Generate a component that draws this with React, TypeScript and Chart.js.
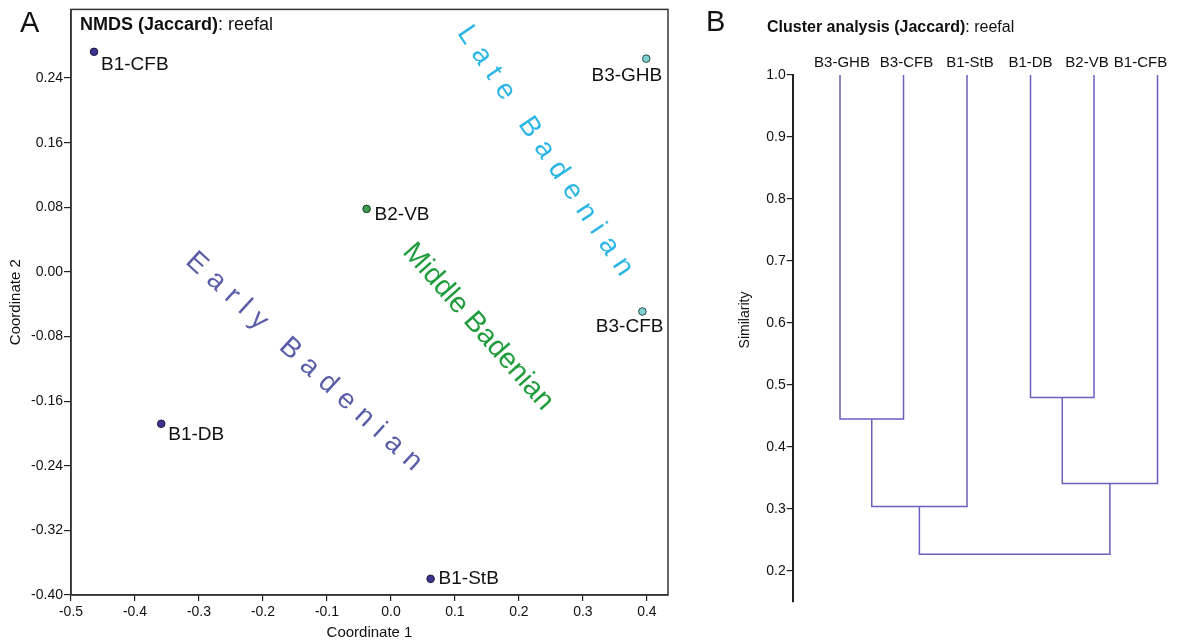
import React, { useEffect, useRef } from "react";
import { Chart, registerables } from "chart.js";

Chart.register(...registerables);

const FONT = "'Liberation Sans', Arial, Helvetica, sans-serif";

// ---------- Panel A: NMDS (Jaccard), reefal ----------
const b1Names = ["B1-CFB", "B1-DB", "B1-StB"];
const b1Coord1 = [-0.464, -0.359, 0.062];
const b1Coord2 = [0.2725, -0.188, -0.38];

const b2Names = ["B2-VB"];
const b2Coord1 = [-0.038];
const b2Coord2 = [0.078];

const b3Names = ["B3-GHB", "B3-CFB"];
const b3Coord1 = [0.399, 0.393];
const b3Coord2 = [0.264, -0.049];

const coord1Ticks = [-0.5, -0.4, -0.3, -0.2, -0.1, 0, 0.1, 0.2, 0.3, 0.4];
const coord2Ticks = [-0.4, -0.32, -0.24, -0.16, -0.08, 0, 0.08, 0.16, 0.24];

const stageNames = ["Early Badenian", "Middle Badenian", "Late Badenian"];
const stageCoord1 = [-0.136, 0.136, 0.241];
const stageCoord2 = [-0.111, -0.068, 0.15];

// ---------- Panel B: Cluster analysis (Jaccard), reefal ----------
const leafNames = ["B3-GHB", "B3-CFB", "B1-StB", "B1-DB", "B2-VB", "B1-CFB"];
// node ids: 0..5 leaves, 6.. merges in order
const mergeLeft = [0, 3, 6, 7, 8];
const mergeRight = [1, 4, 2, 5, 9];
const mergeSimilarity = [0.445, 0.48, 0.304, 0.341, 0.227];
const similarityTicks = [0.2, 0.3, 0.4, 0.5, 0.6, 0.7, 0.8, 0.9, 1.0];

// ---------- styles ----------
const pointLabelStyle: Record<string, { dx: number; dy: number; align: CanvasTextAlign }> = {
  "B1-CFB": { dx: 7, dy: 13, align: "left" },
  "B3-GHB": { dx: 16, dy: 17, align: "right" },
  "B2-VB": { dx: 8, dy: 6, align: "left" },
  "B3-CFB": { dx: 21, dy: 15, align: "right" },
  "B1-DB": { dx: 7, dy: 11, align: "left" },
  "B1-StB": { dx: 8, dy: 0, align: "left" },
};
const stageStyle = [
  { color: "#5a5ea8", angle: 42.5, size: 28, spacing: 9.2 },
  { color: "#1f9d3d", angle: 48.5, size: 28.5, spacing: 0 },
  { color: "#2cb6e6", angle: 56.2, size: 28, spacing: 9.5 },
];
const leafLabelShift = [2, 3, 3, 0, -7, -17];
const DENDRO_COLOR = "#6a60c0";

function drawSpaced(ctx: CanvasRenderingContext2D, text: string, cx: number, cy: number, angleDeg: number, spacing: number) {
  const chars = [...text];
  const widths = chars.map((c) => ctx.measureText(c).width);
  const total = widths.reduce((a, b) => a + b, 0) + spacing * (chars.length - 1);
  ctx.save();
  ctx.translate(cx, cy);
  ctx.rotate((angleDeg * Math.PI) / 180);
  ctx.textAlign = "left";
  ctx.textBaseline = "middle";
  if (spacing === 0) {
    ctx.textAlign = "center";
    ctx.fillText(text, 0, 0);
  } else {
    let x = -total / 2;
    chars.forEach((c, i) => {
      ctx.fillText(c, x, 0);
      x += widths[i] + spacing;
    });
  }
  ctx.restore();
}

function drawRich(ctx: CanvasRenderingContext2D, parts: [string, string][], x: number, y: number, size: number) {
  ctx.textAlign = "left";
  ctx.textBaseline = "middle";
  ctx.fillStyle = "#111";
  let cx = x;
  parts.forEach(([t, w]) => {
    ctx.font = `${w} ${size}px ${FONT}`;
    ctx.fillText(t, cx, y);
    cx += ctx.measureText(t).width;
  });
}

const panelAPlugin = {
  id: "panelA",
  afterDraw(chart: any) {
    const { ctx, chartArea: ca, scales } = chart;
    ctx.save();
    ctx.strokeStyle = "#333";
    ctx.lineWidth = 1.5;
    ctx.strokeRect(ca.left, ca.top, ca.right - ca.left, ca.bottom - ca.top);

    stageNames.forEach((name, i) => {
      const st = stageStyle[i];
      ctx.font = `${st.size}px ${FONT}`;
      ctx.fillStyle = st.color;
      drawSpaced(ctx, name, scales.x.getPixelForValue(stageCoord1[i]), scales.y.getPixelForValue(stageCoord2[i]), st.angle, st.spacing);
    });

    chart.data.datasets.forEach((ds: any, di: number) => {
      const meta = chart.getDatasetMeta(di);
      ds.names.forEach((n: string, i: number) => {
        const pt = meta.data[i];
        const st = pointLabelStyle[n];
        ctx.font = `19px ${FONT}`;
        ctx.fillStyle = "#111";
        ctx.textAlign = st.align;
        ctx.textBaseline = "middle";
        ctx.fillText(n, pt.x + st.dx, pt.y + st.dy);
      });
    });

    drawRich(ctx, [["NMDS (Jaccard)", "bold"], [": reefal", "normal"]], ca.left + 9, 25, 18);

    ctx.font = `29px ${FONT}`;
    ctx.fillStyle = "#111";
    ctx.textAlign = "left";
    ctx.textBaseline = "alphabetic";
    ctx.fillText("A", 20, 32);
    ctx.restore();
  },
};

const panelBPlugin = {
  id: "panelB",
  afterDraw(chart: any) {
    const { ctx, chartArea: ca, scales } = chart;
    ctx.save();
    ctx.font = `15px ${FONT}`;
    ctx.fillStyle = "#111";
    ctx.textAlign = "center";
    ctx.textBaseline = "middle";
    leafNames.forEach((n, i) => {
      ctx.fillText(n, scales.x.getPixelForValue(i + 1) + leafLabelShift[i], ca.top - 12);
    });

    ctx.save();
    ctx.translate(65, 320);
    ctx.rotate(-Math.PI / 2);
    ctx.font = `14px ${FONT}`;
    ctx.fillText("Similarity", 0, 0);
    ctx.restore();

    drawRich(ctx, [["Cluster analysis (Jaccard)", "bold"], [": reefal", "normal"]], 87, 28, 16);

    ctx.font = `29px ${FONT}`;
    ctx.fillStyle = "#111";
    ctx.textAlign = "left";
    ctx.textBaseline = "alphabetic";
    ctx.fillText("B", 26, 31);
    ctx.restore();
  },
};

function buildDendrogram() {
  const nodeX: number[] = leafNames.map((_, i) => i + 1);
  const nodeH: number[] = leafNames.map(() => 1.0);
  const segments: { x: number; y: number }[][] = [];
  mergeLeft.forEach((l, k) => {
    const r = mergeRight[k];
    const h = mergeSimilarity[k];
    segments.push([
      { x: nodeX[l], y: nodeH[l] },
      { x: nodeX[l], y: h },
      { x: nodeX[r], y: h },
      { x: nodeX[r], y: nodeH[r] },
    ]);
    nodeX.push((nodeX[l] + nodeX[r]) / 2);
    nodeH.push(h);
  });
  return segments;
}

const pts = (xs: number[], ys: number[]) => xs.map((x, i) => ({ x, y: ys[i] }));

export default function App() {
  const refA = useRef<HTMLCanvasElement>(null);
  const refB = useRef<HTMLCanvasElement>(null);

  useEffect(() => {
    const tickFont = { family: FONT, size: 14 };
    const chartA = new Chart(refA.current!, {
      type: "scatter",
      data: {
        datasets: [
          { label: "B1", names: b1Names, data: pts(b1Coord1, b1Coord2), backgroundColor: "#3c3391", borderColor: "#1c1a3a", borderWidth: 1, pointRadius: 3.8 } as any,
          { label: "B2", names: b2Names, data: pts(b2Coord1, b2Coord2), backgroundColor: "#3d9a4e", borderColor: "#1c3a22", borderWidth: 1, pointRadius: 3.8 } as any,
          { label: "B3", names: b3Names, data: pts(b3Coord1, b3Coord2), backgroundColor: "#7fcfd0", borderColor: "#2a4a4a", borderWidth: 1, pointRadius: 3.8 } as any,
        ],
      },
      options: {
        animation: false,
        responsive: false,
        devicePixelRatio: 1,
        layout: { padding: { left: 0, top: 9, right: 12, bottom: 0 } },
        plugins: { legend: { display: false }, tooltip: { enabled: false } },
        scales: {
          x: {
            type: "linear",
            position: "bottom",
            min: -0.5,
            max: 0.433,
            afterBuildTicks: (s: any) => { s.ticks = coord1Ticks.map((v) => ({ value: v })); },
            afterFit: (s: any) => { s.height = 48; },
            ticks: { font: tickFont, color: "#111", padding: 3, maxRotation: 0, autoSkip: false, callback: (v: any) => Number(v).toFixed(1) },
            grid: { drawOnChartArea: false, drawTicks: true, tickLength: 6, color: "#222", lineWidth: 1.2 },
            border: { display: true, color: "#333", width: 1.5 },
            title: { display: true, text: "Coordinate 1", font: { family: FONT, size: 15 }, color: "#111", padding: { top: 0, bottom: 1 } },
          },
          y: {
            type: "linear",
            min: -0.4,
            max: 0.325,
            afterBuildTicks: (s: any) => { s.ticks = coord2Ticks.map((v) => ({ value: v })); },
            afterFit: (s: any) => { s.width = 71; },
            ticks: { font: tickFont, color: "#111", padding: 1, autoSkip: false, callback: (v: any) => Number(v).toFixed(2) },
            grid: { drawOnChartArea: false, drawTicks: true, tickLength: 7, color: "#222", lineWidth: 1.2 },
            border: { display: true, color: "#333", width: 1.5 },
            title: { display: true, text: "Coordinate 2", font: { family: FONT, size: 15 }, color: "#111", padding: { top: 7, bottom: 0 } },
          },
        },
      } as any,
      plugins: [panelAPlugin],
    });

    const segments = buildDendrogram();
    const chartB = new Chart(refB.current!, {
      type: "scatter",
      data: {
        datasets: segments.map((seg, i) => ({
          label: `link${i}`,
          data: seg,
          showLine: true,
          borderColor: DENDRO_COLOR,
          borderWidth: 1.5,
          pointRadius: 0,
          tension: 0,
          fill: false,
          clip: false,
        })) as any,
      },
      options: {
        animation: false,
        responsive: false,
        devicePixelRatio: 1,
        layout: { padding: { left: 0, top: 75, right: 0, bottom: 41 } },
        plugins: { legend: { display: false }, tooltip: { enabled: false } },
        scales: {
          x: { type: "linear", display: false, min: 0.255, max: 6.417 },
          y: {
            type: "linear",
            min: 0.15,
            max: 1.0,
            afterBuildTicks: (s: any) => { s.ticks = similarityTicks.map((v) => ({ value: v })); },
            afterFit: (s: any) => { s.width = 112.7; },
            ticks: { font: tickFont, color: "#111", padding: 1, autoSkip: false, callback: (v: any) => Number(v).toFixed(1) },
            grid: { drawOnChartArea: false, drawTicks: true, tickLength: 6, color: "#222", lineWidth: 1.2 },
            border: { display: true, color: "#222", width: 2 },
          },
        },
      } as any,
      plugins: [panelBPlugin],
    });

    return () => {
      chartA.destroy();
      chartB.destroy();
    };
  }, []);

  return (
    <div style={{ position: "fixed", left: 0, top: 0, width: 1184, height: 643, background: "#fff" }}>
      <canvas ref={refA} width={680} height={643} style={{ position: "absolute", left: 0, top: 0, width: 680, height: 643 }} />
      <canvas ref={refB} width={504} height={643} style={{ position: "absolute", left: 680, top: 0, width: 504, height: 643 }} />
    </div>
  );
}
